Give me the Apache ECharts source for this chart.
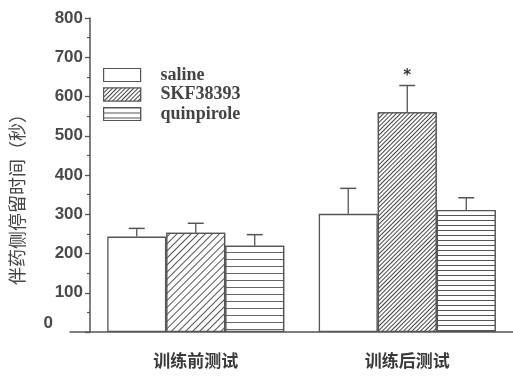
<!DOCTYPE html>
<html>
<head>
<meta charset="utf-8">
<script src="https://cdn.jsdelivr.net/npm/echarts@6/dist/echarts.min.js"></script>
<style>
  html, body { margin: 0; padding: 0; background: #fff; }
  #chart { width: 513px; height: 377px; }
</style>
</head>
<body>
<div id="chart"></div>
<script>
// Test phases (x categories)
const categories = ['训练前测试', '训练后测试'];

// Group means (seconds on the drug-paired side)
const salineMean = [243, 301];
const skfMean = [253, 560];
const quinMean = [220, 311];

// Standard errors drawn as upward whiskers
const salineErr = [21, 65];
const skfErr = [24, 68];
const quinErr = [28, 31];

// Significance marks per phase
const skfSig = ['', '*'];

const seriesNames = ['saline', 'SKF38393', 'quinpirole'];
const yTicks = [0, 800, 100]; // min, max, step

const BAR_W = 59;
const INK = '#555';

const diagDense = { symbol: 'rect', symbolSize: 1, dashArrayX: [1, 0], dashArrayY: [1, 1.6], rotation: -Math.PI / 4, color: '#444', backgroundColor: '#fff' };
const diagWide = { symbol: 'rect', symbolSize: 1, dashArrayX: [1, 0], dashArrayY: [1, 3.8], rotation: -Math.PI / 4, color: '#555', backgroundColor: '#fff' };
const horizDense = { symbol: 'rect', symbolSize: 1, dashArrayX: [1, 0], dashArrayY: [1, 3.5], rotation: 0, color: '#555', backgroundColor: '#fff' };
const horizWide = { symbol: 'rect', symbolSize: 1, dashArrayX: [1, 0], dashArrayY: [1, 5.5], rotation: 0, color: '#666', backgroundColor: '#fff' };

function barSeries(name, values, baseDecal, perItemDecal) {
  return {
    name: name,
    type: 'bar',
    barWidth: BAR_W,
    barGap: '0%',
    xAxisIndex: 0,
    yAxisIndex: 0,
    itemStyle: { color: '#fff', borderColor: INK, borderWidth: 1.3, decal: baseDecal },
    data: values.map((v, i) => ({
      value: v,
      itemStyle: perItemDecal && perItemDecal[i] ? { decal: perItemDecal[i] } : {}
    }))
  };
}

// whisker data: [category index, mean, error, slot, mark]
const whiskers = [];
[[salineMean, salineErr, -1, ['', '']], [skfMean, skfErr, 0, skfSig], [quinMean, quinErr, 1, ['', '']]]
  .forEach(([m, e, slot, sig]) => {
    m.forEach((v, i) => whiskers.push([i, v, e[i], slot, sig[i]]));
  });

const chart = echarts.init(document.getElementById('chart'));
chart.setOption({
  backgroundColor: '#fff',
  animation: false,
  grid: [
    { left: 82, width: 436, top: 18, bottom: 45 },
    { left: 70, right: 0, top: 18, bottom: 45 }
  ],
  legend: {
    data: seriesNames,
    orient: 'vertical',
    left: 103,
    top: 66,
    padding: 0,
    itemWidth: 37,
    itemHeight: 13,
    itemGap: 1.5,
    icon: 'rect',
    textStyle: { fontFamily: 'Liberation Serif', fontWeight: 'bold', fontSize: 18, color: '#444', padding: [0, 0, 0, 15] },
    itemStyle: { borderColor: INK, borderWidth: 1.2 }
  },
  xAxis: [
    {
      type: 'category',
      data: categories,
      gridIndex: 0,
      axisLine: { show: false },
      axisTick: { show: false },
      axisLabel: { margin: 20, fontFamily: 'Noto Sans CJK SC', fontWeight: 'bold', fontSize: 17, color: '#3a3a3a' }
    },
    {
      type: 'value',
      gridIndex: 1,
      min: 0, max: 1,
      axisLine: { show: true, lineStyle: { color: INK, width: 1.5 } },
      axisTick: { show: false },
      axisLabel: { show: false },
      splitLine: { show: false }
    }
  ],
  yAxis: [
    {
      type: 'value',
      gridIndex: 0,
      min: yTicks[0],
      max: yTicks[1],
      interval: yTicks[2],
      name: '伴药侧停留时间（秒）',
      nameLocation: 'middle',
      nameGap: 64,
      nameTextStyle: { fontFamily: 'Noto Sans CJK SC', fontSize: 18, color: '#444', padding: [0, 40, 0, 0] },
      axisLine: { show: true, lineStyle: { color: INK, width: 1.5 } },
      axisTick: { show: true, length: 5, lineStyle: { color: INK, width: 1.3 } },
      minorTick: { show: true, splitNumber: 2, length: 3, lineStyle: { color: INK, width: 1.2 } },
      splitLine: { show: false },
      axisLabel: {
        margin: 7,
        fontFamily: 'Liberation Sans',
        fontWeight: 'bold',
        fontSize: 17,
        color: '#4a4a4a',
        formatter: v => (v === 0 ? '{z|0}' : String(v)),
        rich: { z: { fontFamily: 'Liberation Sans', fontWeight: 'bold', fontSize: 17, color: '#4a4a4a', padding: [0, 30, 18, 0] } }
      }
    },
    {
      type: 'value',
      gridIndex: 1,
      show: false
    }
  ],
  series: [
    barSeries(seriesNames[0], salineMean, null, null),
    barSeries(seriesNames[1], skfMean, diagDense, [diagWide, diagDense]),
    barSeries(seriesNames[2], quinMean, horizDense, [horizWide, horizDense]),
    {
      name: 'sem',
      type: 'custom',
      xAxisIndex: 0,
      yAxisIndex: 0,
      z: 5,
      clip: false,
      data: whiskers,
      renderItem: function (params, api) {
        const base = api.coord([api.value(0), api.value(1)]);
        const top = api.coord([api.value(0), api.value(1) + api.value(2)]);
        const x = base[0] + api.value(3) * BAR_W;
        const cap = 8;
        const children = [
          { type: 'line', shape: { x1: x, y1: base[1], x2: x, y2: top[1] }, style: { stroke: INK, lineWidth: 1.3 } },
          { type: 'line', shape: { x1: x - cap, y1: top[1], x2: x + cap, y2: top[1] }, style: { stroke: INK, lineWidth: 1.5 } }
        ];
        const mark = whiskers[params.dataIndex][4];
        if (mark) {
          children.push({
            type: 'text',
            style: { text: mark, x: x, y: top[1] - 2, align: 'center', verticalAlign: 'bottom', fontFamily: 'DejaVu Sans', fontWeight: 'bold', fontSize: 15, fill: '#333' }
          });
        }
        return { type: 'group', children: children };
      }
    }
  ]
});
</script>
</body>
</html>
